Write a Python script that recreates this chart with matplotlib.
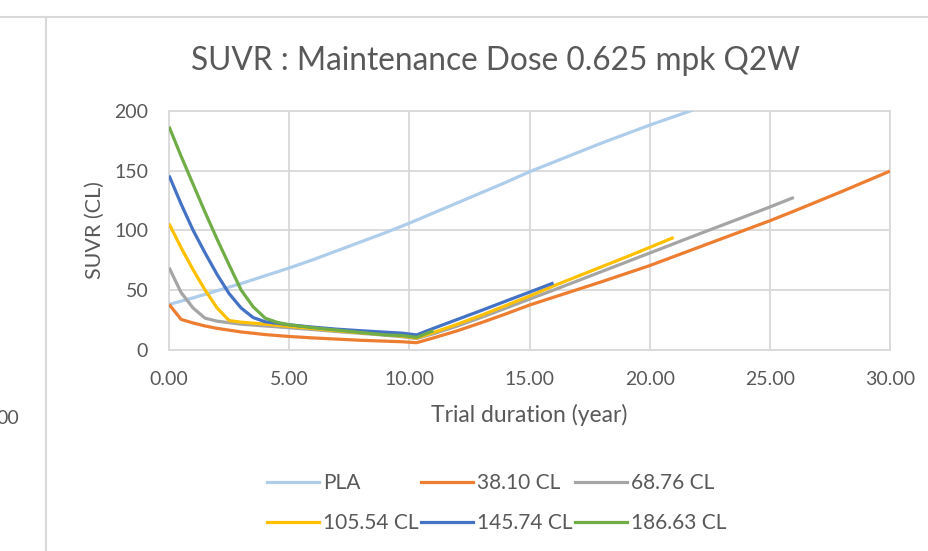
import matplotlib.pyplot as plt
from matplotlib.lines import Line2D
from matplotlib.ticker import FormatStrFormatter

plt.rcParams['font.family'] = ['Lato', 'DejaVu Sans']

# series data (years, CL)
pla_t = [0, 1, 2, 3, 4, 5, 6, 7, 8, 9, 10, 11, 12, 13, 14, 15, 16, 17, 18, 19, 20, 21, 22]
pla_v = [38, 43.5, 49.5, 55.5, 62, 68.5, 75.5, 83, 90.5, 98, 106, 114.5, 123, 131.5,
         140, 149, 157, 165, 173, 180.5, 188, 195, 202]

cl38_t = [0, 0.5, 1, 1.5, 2, 3, 4, 5, 6, 7, 8, 9, 9.7, 10.3, 11, 12, 13, 14, 15,
          16, 18, 20, 22, 24, 25, 26, 28, 30]
cl38_v = [38.1, 25.5, 22.5, 20, 18, 15, 12.8, 11.2, 10, 9, 8, 7.3, 6.8, 6, 10, 16,
          22.8, 30, 37.5, 44, 57, 70.5, 85.5, 100.5, 108, 116, 132.5, 149.5]

cl68_t = [0, 0.5, 1, 1.5, 2, 3, 4, 5, 6, 7, 8, 9, 9.7, 10.3, 11, 12, 13, 14, 15, 16,
          18, 20, 22, 24, 25, 26]
cl68_v = [68.76, 48, 35, 26.5, 24, 21.5, 20, 18.5, 17, 15.3, 13.8, 12.3, 11, 9.5, 13.5,
          20, 27.3, 34.8, 42.5, 50, 65.5, 81, 96.5, 111.8, 119.5, 127.5]

cl105_t = [0, 0.5, 1, 1.5, 2, 2.5, 3, 4, 5, 6, 7, 8, 9, 9.7, 10.3, 11, 12, 13, 14, 15,
           16, 17, 18, 19, 20, 21]
cl105_v = [105.54, 85.5, 67, 50, 35, 24.5, 23.2, 21.5, 19.7, 17.8, 16, 14.3, 12.8, 11.5,
           10, 14.5, 21.5, 29, 37, 45, 53.5, 61.5, 69.5, 77.5, 85.7, 94]

cl145_t = [0, 0.5, 1, 1.5, 2, 2.5, 3, 3.5, 4, 5, 6, 7, 8, 9, 9.7, 10.3, 11, 12, 13, 14,
           15, 16]
cl145_v = [145.74, 122, 100, 81, 63, 47, 35, 27, 23.5, 21, 19, 17.3, 16, 14.8, 14, 12.5,
           18, 25.5, 33, 40.7, 48.3, 56]

cl186_t = [0, 0.5, 1, 1.5, 2, 2.5, 3, 3.5, 4, 4.5, 5, 6, 7, 8, 9, 9.7, 10.3, 11]
cl186_v = [186.63, 162, 138.5, 115, 92.5, 71, 50, 36, 26.5, 23, 21, 18.5, 16.5, 14.5,
           12.5, 12, 10.5, 16]

labels = ['PLA', '38.10 CL', '68.76 CL', '105.54 CL', '145.74 CL', '186.63 CL']
colors = ['#AECDEB', '#ED7D31', '#A5A5A5', '#FFC000', '#4472C4', '#70AD47']
series = [(pla_t, pla_v), (cl38_t, cl38_v), (cl68_t, cl68_v),
          (cl105_t, cl105_v), (cl145_t, cl145_v), (cl186_t, cl186_v)]

txt = '#595959'
grid = '#D9D9D9'

fig = plt.figure(figsize=(9.29, 5.51), dpi=100)
ax = fig.add_axes([0.182, 0.365, 0.776, 0.434])

for (t, v), c in zip(series, colors):
    ax.plot(t, v, color=c, lw=2.3, solid_capstyle='butt', zorder=3)

ax.set_xlim(0, 30)
ax.set_ylim(0, 200)
ax.set_xticks(range(0, 31, 5))
ax.set_yticks(range(0, 201, 50))
ax.xaxis.set_major_formatter(FormatStrFormatter('%.2f'))
ax.grid(True, color=grid, lw=1.3, zorder=0)
for s in ax.spines.values():
    s.set_color(grid)
    s.set_linewidth(1.3)
ax.tick_params(length=0, colors=txt, labelsize=14)
ax.tick_params(axis='x', pad=15)
ax.tick_params(axis='y', pad=15)

ax.set_xlabel('Trial duration (year)', color=txt, fontsize=16.5, labelpad=12)
ax.set_ylabel('SUVR (CL)', color=txt, fontsize=15.5, labelpad=7)

fig.text(0.533, 0.89, 'SUVR : Maintenance Dose 0.625 mpk Q2W', ha='center',
         va='center', fontsize=22.8, color=txt)

# legend, filled down the columns
order = [0, 3, 1, 4, 2, 5]
handles = [Line2D([], [], color=colors[i], lw=2.3) for i in order]
fig.legend(handles, [labels[i] for i in order], ncol=3, loc='center',
           bbox_to_anchor=(0.535, 0.087), frameon=False, fontsize=15,
           labelcolor=txt, handlelength=2.5, handletextpad=0.2, columnspacing=0.1,
           labelspacing=0.95)

# frame lines and stray label from the neighbouring sheet area
fig.add_artist(Line2D([0, 1], [0.969, 0.969], color=grid, lw=1.5))
fig.add_artist(Line2D([0.0495, 0.0495], [0, 0.969], color=grid, lw=1.5))
fig.text(-0.004, 0.241, '00', fontsize=14, color=txt, va='center')

fig.savefig('out.png', dpi=100)
